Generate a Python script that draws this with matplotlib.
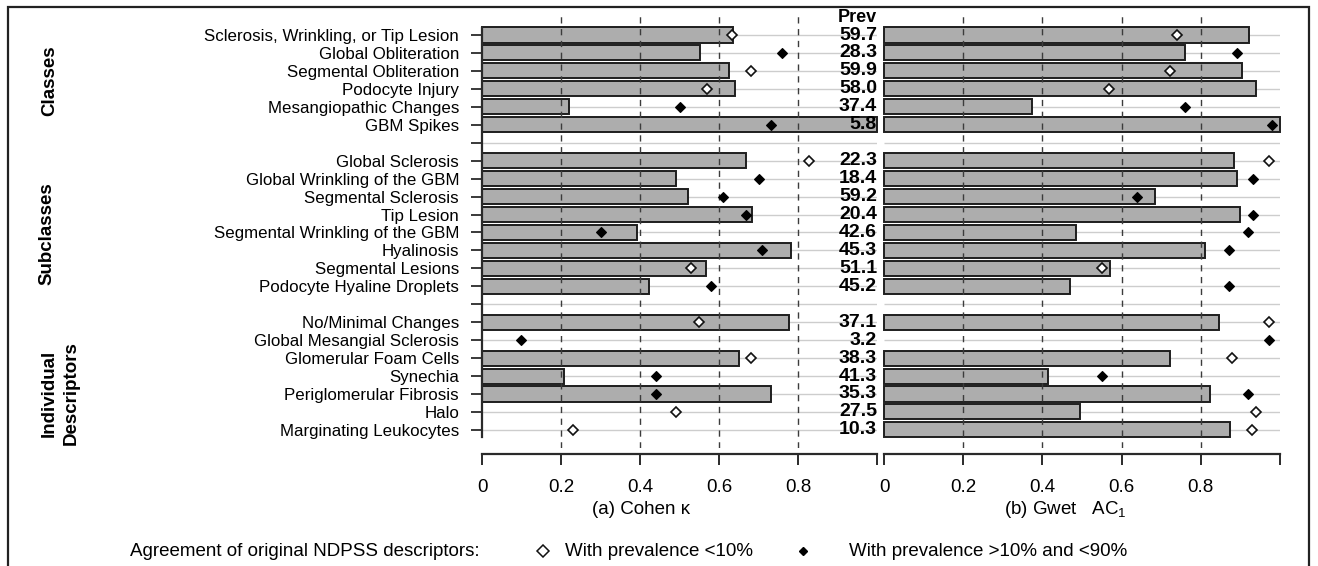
import numpy as np
import matplotlib
matplotlib.use("Agg")
import matplotlib.pyplot as plt
from matplotlib.lines import Line2D
from matplotlib.patches import Rectangle

plt.rcParams['font.family'] = ['Liberation Sans', 'DejaVu Sans']
plt.rcParams['mathtext.fontset'] = 'custom'
plt.rcParams['mathtext.rm'] = 'Liberation Sans'
plt.rcParams['mathtext.it'] = 'Liberation Sans:italic'
plt.rcParams['mathtext.default'] = 'regular'

# ---------------- data ----------------
labels = [
    "Sclerosis, Wrinkling, or Tip Lesion", "Global Obliteration", "Segmental Obliteration",
    "Podocyte Injury", "Mesangiopathic Changes", "GBM Spikes",
    "",
    "Global Sclerosis", "Global Wrinkling of the GBM", "Segmental Sclerosis", "Tip Lesion",
    "Segmental Wrinkling of the GBM", "Hyalinosis", "Segmental Lesions", "Podocyte Hyaline Droplets",
    "",
    "No/Minimal Changes", "Global Mesangial Sclerosis", "Glomerular Foam Cells", "Synechia",
    "Periglomerular Fibrosis", "Halo", "Marginating Leukocytes",
]
nan = np.nan
prev = ["59.7", "28.3", "59.9", "58.0", "37.4", "5.8", "",
        "22.3", "18.4", "59.2", "20.4", "42.6", "45.3", "51.1", "45.2", "",
        "37.1", "3.2", "38.3", "41.3", "35.3", "27.5", "10.3"]
kappa_bar = [0.635, 0.553, 0.625, 0.640, 0.221, 1.000, nan,
             0.668, 0.490, 0.521, 0.684, 0.393, 0.782, 0.567, 0.422, nan,
             0.776, nan, 0.650, 0.208, 0.732, nan, nan]
kappa_pt = [0.632, 0.760, 0.681, 0.570, 0.500, 0.732, nan,
            0.829, 0.700, 0.610, 0.668, 0.300, 0.709, 0.529, 0.580, nan,
            0.549, 0.099, 0.680, 0.440, 0.440, 0.490, 0.230]
gwet_bar = [0.922, 0.759, 0.904, 0.940, 0.373, 1.000, nan,
            0.885, 0.891, 0.684, 0.898, 0.484, 0.811, 0.571, 0.470, nan,
            0.846, nan, 0.722, 0.413, 0.824, 0.496, 0.874]
gwet_pt = [0.739, 0.891, 0.721, 0.569, 0.760, 0.981, nan,
           0.971, 0.931, 0.640, 0.931, 0.920, 0.871, 0.550, 0.871, nan,
           0.971, 0.971, 0.880, 0.550, 0.920, 0.940, 0.930]
# 'o' = prevalence <10% (open), 'f' = prevalence >10% and <90% (filled)
pt_type = ['o', 'f', 'o', 'o', 'f', 'f', '',
           'o', 'f', 'f', 'f', 'f', 'f', 'o', 'f', '',
           'o', 'f', 'o', 'f', 'f', 'o', 'o']
groups = ["Classes", "Subclasses", "Individual\nDescriptors"]
xticks = [0, 0.2, 0.4, 0.6, 0.8, 1.0]
xticklabels = ["0", "0.2", "0.4", "0.6", "0.8", ""]

W, H = 1318, 566
fig = plt.figure(figsize=(W / 100, H / 100), dpi=100)

def fx(x):
    return x / W

def fy(y):
    return 1 - y / H

n = len(labels)
ypos = np.arange(n)
y_top_px, y_bot_px = 12, 448
row0_px, row_step = 35, 17.95
ylim = ((y_bot_px - row0_px) / row_step, (y_top_px - row0_px) / row_step)

axL = fig.add_axes([fx(482), fy(y_bot_px), fx(877) - fx(482), fy(y_top_px) - fy(y_bot_px)])
axR = fig.add_axes([fx(884), fy(y_bot_px), fx(1280) - fx(884), fy(y_top_px) - fy(y_bot_px)])

bar_face = '#adadad'
edge = '#1e1e1e'

for ax, bars, pts in [(axL, kappa_bar, kappa_pt), (axR, gwet_bar, gwet_pt)]:
    ax.set_xlim(0, 1.0)
    ax.set_ylim(*ylim)
    ax.patch.set_alpha(0)
    ax.hlines(ypos, 0, 1.0, color='#cdcdcd', lw=1.0, zorder=1)
    bv = np.array(bars, dtype=float)
    ok = ~np.isnan(bv)
    ax.barh(ypos[ok], bv[ok], height=0.84, left=0, color=bar_face,
            edgecolor=edge, linewidth=1.4, zorder=2, clip_on=False)
    for xv in [0.2, 0.4, 0.6, 0.8]:
        ax.axvline(xv, color='#3c3c3c', lw=1.0, linestyle=(0, (4.5, 4)), zorder=3)
    pv = np.array(pts, dtype=float)
    t = np.array(pt_type)
    mo = (t == 'o') & ~np.isnan(pv)
    mf = (t == 'f') & ~np.isnan(pv)
    ax.plot(pv[mo], ypos[mo], linestyle='none', marker='D', markersize=5.0,
            markerfacecolor='white', markeredgecolor='#111111', markeredgewidth=1.2, zorder=5, clip_on=False)
    ax.plot(pv[mf], ypos[mf], linestyle='none', marker='D', markersize=5.2,
            markerfacecolor='black', markeredgecolor='black', markeredgewidth=0.8, zorder=5, clip_on=False)
    for s in ['top', 'right', 'left']:
        ax.spines[s].set_visible(False)
    ax.spines['bottom'].set_position(('outward', 4.3))
    ax.spines['bottom'].set_bounds(0, 1.0)
    ax.spines['bottom'].set_linewidth(1.6)
    ax.spines['bottom'].set_color('#2a2a2a')
    ax.set_xticks(xticks)
    ax.set_xticklabels(xticklabels)
    ax.tick_params(axis='x', direction='out', length=8, width=1.4, color='#2a2a2a',
                   pad=10, labelsize=13.5)

# left axis with category labels
axL.spines['left'].set_visible(True)
axL.spines['left'].set_bounds(-0.4, 22.4)
axL.spines['left'].set_linewidth(1.6)
axL.spines['left'].set_color('#2a2a2a')
axL.set_yticks(ypos)
axL.set_yticklabels(labels)
axL.tick_params(axis='y', direction='out', length=8, width=1.3, color='#2a2a2a',
                pad=8.5, labelsize=12.2)
axR.set_yticks([])

# prevalence column
axL.text(1.0, -1.0, "Prev", ha='right', va='center', fontsize=13, fontweight='bold', zorder=6)
for i, p in enumerate(prev):
    if p:
        axL.text(1.0, i, p, ha='right', va='center', fontsize=14, fontweight='bold', zorder=6)

# axis titles
fig.text(fx(592), fy(510), "(a) Cohen κ", ha='left', va='center', fontsize=13.5)
fig.text(fx(1004), fy(510), "(b) Gwet   AC$_1$", ha='left', va='center', fontsize=13.5)

# group labels
fig.text(fx(50), fy(81), groups[0], rotation=90, ha='center', va='center',
         fontsize=13.5, fontweight='bold')
fig.text(fx(47), fy(234), groups[1], rotation=90, ha='center', va='center',
         fontsize=13.5, fontweight='bold')
fig.text(fx(60), fy(393), groups[2], rotation=90, ha='center', va='center',
         fontsize=13.5, fontweight='bold', linespacing=1.4, multialignment='center')

# legend
ly = fy(551)
fig.text(fx(130), ly, "Agreement of original NDPSS descriptors:", ha='left', va='center', fontsize=13.5)
fig.add_artist(Line2D([fx(543)], [ly], transform=fig.transFigure, marker='D', markersize=6.0,
                      markerfacecolor='white', markeredgecolor='#111111', markeredgewidth=1.1, linestyle='none'))
fig.text(fx(565), ly, "With prevalence <10%", ha='left', va='center', fontsize=13.5)
fig.add_artist(Line2D([fx(803)], [ly], transform=fig.transFigure, marker='D', markersize=4.2,
                      markerfacecolor='black', markeredgecolor='black', linestyle='none'))
fig.text(fx(849), ly, "With prevalence >10% and <90%", ha='left', va='center', fontsize=13.5)

# outer frame (bottom edge lies outside the picture, as in the reference)
fig.add_artist(Rectangle((fx(8), fy(590)), fx(1309) - fx(8), fy(7) - fy(590),
                         transform=fig.transFigure, fill=False, edgecolor='#222222',
                         linewidth=1.6, clip_on=False))

fig.savefig("out.png", dpi=100)
